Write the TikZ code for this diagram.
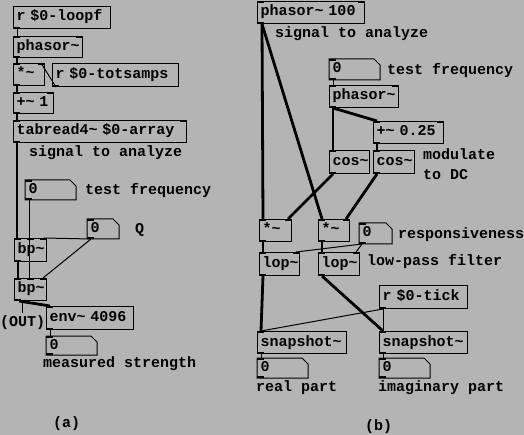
\documentclass[tikz,border=0pt]{standalone}
\usepackage{fontspec}
\newfontfamily\pdfam{Liberation Mono}
\newcommand\pdtext{\pdfam\bfseries\fontsize{15}{20}\selectfont}
\newcommand\tld{\textasciitilde}
\usetikzlibrary{calc}
\definecolor{pdbg}{RGB}{180,180,180}
\tikzset{
  pdbox/.style={draw=black, line width=1pt, anchor=north west, inner xsep=3pt, inner ysep=0pt,
    font=\pdtext, text height=10pt, text depth=3pt, text width=#1},
  numbox/.style={pdbox=#1, draw=none},
  cmt/.style={anchor=west, inner sep=0pt, font=\pdtext},
  sig/.style={line width=2.8pt},
  ctl/.style={line width=1pt},
  outline/.style={draw=black, line width=1pt}
}
\newcommand\numout[1]{\draw[outline] (#1.south west) -- (#1.north west) -- ([xshift=-6pt]#1.north east) -- ([yshift=-6pt]#1.north east) -- (#1.south east) -- cycle;}
\newcommand\iotl[1]{\fill (#1.north west) rectangle ([xshift=7pt,yshift=-2pt]#1.north west);}
\newcommand\iotr[1]{\fill (#1.north east) rectangle ([xshift=-7pt,yshift=-2pt]#1.north east);}
\newcommand\iotm[1]{\fill ([xshift=-3.5pt]#1.north) rectangle ([xshift=3.5pt,yshift=-2pt]#1.north);}
\newcommand\iobl[1]{\fill (#1.south west) rectangle ([xshift=7pt,yshift=2pt]#1.south west);}
\begin{document}
\begin{tikzpicture}[x=1pt,y=-1pt]
\fill[pdbg] (0,0) rectangle (524,435);
\useasboundingbox (0,0) rectangle (524,435);
% ---------------- panel (a)
\node[pdbox=91pt, minimum height=22pt] (a1) at (13,6) {r \$0-loopf};
\node[pdbox=63pt, minimum height=21pt] (a2) at (13,36) {phasor\tld};
\node[pdbox=25pt, minimum height=22pt] (a3) at (13,63) {*\tld};
\node[pdbox=120pt, minimum height=23pt] (a4) at (52,63) {r \$0-totsamps};
\node[pdbox=34pt, minimum height=21pt] (a5) at (13,92) {+\tld{} 1};
\node[pdbox=167pt, minimum height=22pt] (a6) at (13,120) {tabread4\tld{} \$0-array};
\node[cmt] (ac1) at (29,153) {signal to analyze};
\node[numbox=44pt, minimum height=19pt] (a7) at (25,180) {0};
\node[cmt] (ac2) at (85,191) {test frequency};
\node[numbox=25pt, minimum height=19pt] (a8) at (87,219) {0};
\node[cmt] (ac3) at (135,230) {Q};
\node[pdbox=26pt, minimum height=23pt] (a9) at (14,238) {bp\tld};
\node[pdbox=26pt, minimum height=22pt] (a10) at (14,278) {bp\tld};
\node[pdbox=81pt, minimum height=23pt] (a11) at (46,306) {env\tld{} 4096};
\node[numbox=44pt, minimum height=18pt] (a12) at (46,336) {0};
\node[cmt] (ac4) at (0,323) {(OUT)};
\coordinate (out) at (22,313);
\node[cmt] (ac5) at (43,364) {measured strength};
\node[cmt] (ac6) at (53,424) {(a)};
\numout{a7}\numout{a8}\numout{a12}
% connections (a)
\draw[ctl] ([xshift=4pt]a1.south west) -- ([xshift=4pt]a2.north west);
\draw[sig] ([xshift=4pt]a2.south west) -- ([xshift=4pt]a3.north west);
\draw[ctl] ([xshift=4pt]a4.south west) -- ([xshift=-4pt]a3.north east);
\draw[sig] ([xshift=4pt]a3.south west) -- ([xshift=4pt]a5.north west);
\draw[sig] ([xshift=4pt]a5.south west) -- ([xshift=4pt]a6.north west);
\draw[sig] ([xshift=4pt]a6.south west) -- ([xshift=3pt]a9.north west);
\draw[ctl] ([xshift=4pt]a7.south west) -- ([xshift=15pt]a9.north west);
\draw[ctl] ([xshift=4pt]a7.south west) -- ([xshift=15pt]a10.north west);
\draw[ctl] ([xshift=4pt]a8.south west) -- ([xshift=-3pt]a9.north east);
\draw[ctl] ([xshift=4pt]a8.south west) -- ([xshift=-4pt]a10.north east);
\draw[sig] ([xshift=4pt]a9.south west) -- ([xshift=4pt]a10.north west);
\draw[sig] ([xshift=5pt]a10.south west) -- ([xshift=4pt]a11.north west);
\draw[ctl] ([xshift=8pt]a10.south west) -- (out);
\draw[ctl] ([xshift=4pt]a11.south west) -- ([xshift=4pt]a12.north west);
% ---------------- panel (b)
\node[pdbox=101pt, minimum height=22pt] (b1) at (257,1) {phasor\tld{} 100};
\node[cmt] (bc1) at (275,34) {signal to analyze};
\node[numbox=44pt, minimum height=20pt] (b2) at (329,59) {0};
\node[cmt] (bc2) at (387,71) {test frequency};
\node[pdbox=63pt, minimum height=22pt] (b3) at (329,85) {phasor\tld};
\node[pdbox=64pt, minimum height=22pt] (b4) at (373,121) {+\tld{} 0.25};
\node[pdbox=34pt, minimum height=23pt] (b5) at (329,150) {cos\tld};
\node[pdbox=35pt, minimum height=23pt] (b6) at (373,150) {cos\tld};
\node[cmt, align=left, font=\pdfam\bfseries\fontsize{15}{20}\selectfont] (bc3) at (423,164) {modulate\\to DC};
\node[pdbox=26pt, minimum height=22pt] (b7) at (259,219) {*\tld};
\node[pdbox=25pt, minimum height=22pt] (b8) at (318,219) {*\tld};
\node[numbox=26pt, minimum height=20pt] (b9) at (359,223) {0};
\node[cmt] (bc4) at (398,235) {responsiveness};
\node[pdbox=34pt, minimum height=23pt] (b10) at (259,252) {lop\tld};
\node[pdbox=35pt, minimum height=23pt] (b11) at (318,252) {lop\tld};
\node[cmt] (bc5) at (367,262) {low-pass filter};
\node[pdbox=82pt, minimum height=23pt] (b12) at (379,285) {r \$0-tick};
\node[pdbox=83pt, minimum height=22pt] (b13) at (257,331) {snapshot\tld};
\node[pdbox=82pt, minimum height=22pt] (b14) at (379,331) {snapshot\tld};
\node[numbox=44pt, minimum height=19pt] (b15) at (257,358) {0};
\node[numbox=44pt, minimum height=19pt] (b16) at (379,358) {0};
\node[cmt] (bc6) at (256,388) {real part};
\node[cmt] (bc7) at (378,388) {imaginary part};
\node[cmt] (bc8) at (365,427) {(b)};
\numout{b2}\numout{b9}\numout{b15}\numout{b16}
% connections (b)
\draw[sig] ([xshift=5pt]b1.south west) -- ([xshift=4pt]b7.north west);
\draw[sig] ([xshift=5pt]b1.south west) -- ([xshift=4pt]b8.north west);
\draw[ctl] ([xshift=4pt]b2.south west) -- ([xshift=4pt]b3.north west);
\draw[sig] ([xshift=4pt]b3.south west) -- ([xshift=4pt]b5.north west);
\draw[sig] ([xshift=4pt]b3.south west) -- ([xshift=4pt]b4.north west);
\draw[sig] ([xshift=4pt]b4.south west) -- ([xshift=4pt]b6.north west);
\draw[sig] ([xshift=4pt]b5.south west) -- ([xshift=-4pt]b7.north east);
\draw[sig] ([xshift=4pt]b6.south west) -- ([xshift=-4pt]b8.north east);
\draw[sig] ([xshift=4pt]b7.south west) -- ([xshift=4pt]b10.north west);
\draw[sig] ([xshift=4pt]b8.south west) -- ([xshift=4pt]b11.north west);
\draw[ctl] ([xshift=3pt]b9.south west) -- ([xshift=-4pt]b10.north east);
\draw[ctl] ([xshift=3pt]b9.south west) -- ([xshift=-4pt]b11.north east);
\draw[sig] ([xshift=4pt]b10.south west) -- ([xshift=4pt]b13.north west);
\draw[sig] ([xshift=4pt]b11.south west) -- ([xshift=4pt]b14.north west);
\draw[ctl] ([xshift=4pt]b12.south west) -- ([xshift=4pt]b13.north west);
\draw[ctl] ([xshift=4pt]b12.south west) -- ([xshift=4pt]b14.north west);
\draw[ctl] ([xshift=4pt]b13.south west) -- ([xshift=4pt]b15.north west);
\draw[ctl] ([xshift=4pt]b14.south west) -- ([xshift=4pt]b16.north west);
% inlets / outlets
\foreach \n in {a1,a4,b12} {\iobl{\n}}
\foreach \n in {a2,a3,a5,a6,b1,b3,b4,b7,b8,b10,b11} {\iotl{\n}\iotr{\n}\iobl{\n}}
\foreach \n in {a7,a8,a12,b2,b9,b15,b16,a11,b5,b6,b13,b14} {\iotl{\n}\iobl{\n}}
\foreach \n in {a9,a10} {\iotl{\n}\iotm{\n}\iotr{\n}\iobl{\n}}
\end{tikzpicture}
\end{document}
